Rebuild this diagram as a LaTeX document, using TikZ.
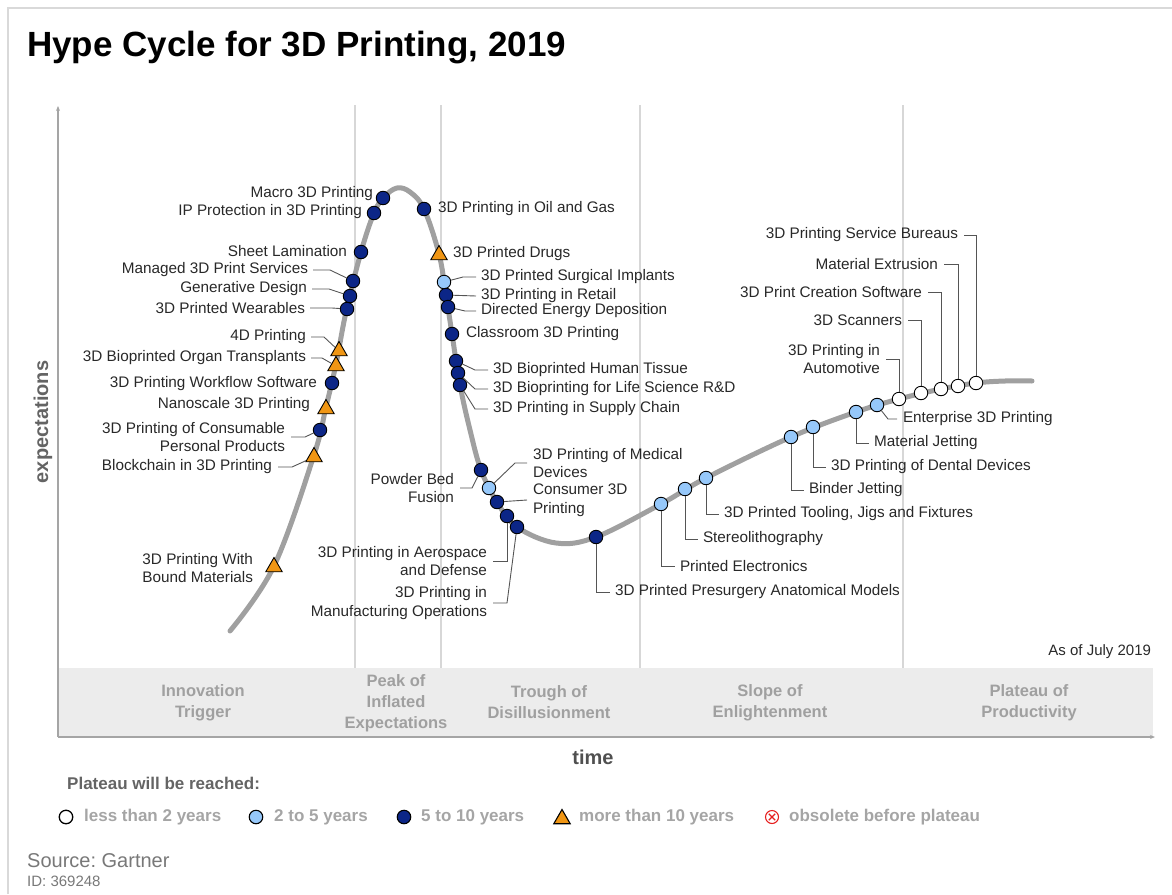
\documentclass[tikz,border=0pt]{standalone}
\usepackage{fontspec}
\setmainfont{Liberation Sans}
\usetikzlibrary{shapes.geometric,arrows.meta}

\definecolor{hcNavy}{RGB}{12,38,135}
\definecolor{hcLight}{RGB}{150,200,250}
\definecolor{hcOrange}{RGB}{240,150,20}
\definecolor{hcCurve}{RGB}{160,160,160}
\definecolor{hcSep}{RGB}{215,215,215}
\definecolor{hcAxis}{RGB}{165,165,165}
\definecolor{hcBand}{RGB}{236,236,236}
\definecolor{hcFrame}{RGB}{217,217,217}
\definecolor{hcText}{RGB}{40,40,40}
\definecolor{hcLeader}{RGB}{85,85,85}
\definecolor{hcPhase}{RGB}{160,160,160}
\definecolor{hcLegend}{RGB}{165,165,165}
\definecolor{hcLegendHead}{RGB}{100,100,100}
\definecolor{hcSource}{RGB}{120,120,120}
\definecolor{hcRed}{RGB}{230,30,30}

\begin{document}
\frenchspacing
\begin{tikzpicture}[x=1pt,y=-1pt,
  curve/.style={line width=5pt,draw=hcCurve,line cap=round},
  sepline/.style={draw=hcSep,line width=1.2pt},
  axisline/.style={draw=hcAxis,line width=1.5pt,-{Stealth[length=5pt,width=4pt]}},
  mk/.style={circle,draw=black,line width=0.9pt,minimum size=13.5pt,inner sep=0pt},
  mkA/.style={mk,fill=white},
  mkB/.style={mk,fill=hcLight},
  mkC/.style={mk,fill=hcNavy},
  mkD/.style={regular polygon,regular polygon sides=3,draw=black,line width=0.9pt,
              fill=hcOrange,minimum size=19pt,inner sep=0pt},
  lbl/.style={font=\fontsize{15.3pt}{18.5pt}\selectfont,text=hcText,inner sep=0pt,outer sep=0pt},
  lblL/.style={lbl,anchor=east,align=right},
  lblR/.style={lbl,anchor=west,align=left},
  leader/.style={draw=hcLeader,line width=0.9pt},
  phase/.style={font=\bfseries\fontsize{16.5pt}{21pt}\selectfont,text=hcPhase,align=center,inner sep=0pt},
  lgdtxt/.style={font=\bfseries\fontsize{17pt}{20pt}\selectfont,text=hcLegend,anchor=west,inner sep=0pt}
]
\useasboundingbox (0,0) rectangle (1172,894);

% page frame
\draw[draw=hcFrame,line width=2pt] (8,894) -- (8,8) -- (1172,8);

% title
\node[anchor=base west,inner sep=0pt,font=\bfseries\fontsize{35pt}{40pt}\selectfont] (title) at (27,56) {Hype Cycle for 3D Printing, 2019};

% phase band and separators
\fill[hcBand] (58,668) rectangle (1153,737);
\foreach \sx in {355,441,640,903} \draw[sepline] (\sx,105) -- (\sx,668);

% axes
\draw[axisline] (58,737) -- (58,106);
\draw[axisline] (58,737) -- (1155,737);
\node[rotate=90,font=\bfseries\fontsize{20pt}{24pt}\selectfont,text=hcLegendHead,inner sep=0pt] (ylab) at (43,422) {expectations};
\node[font=\bfseries\fontsize{20pt}{24pt}\selectfont,text=hcLegendHead!80!black,inner sep=0pt] (xlab) at (593,757) {time};

% phase names
\node[phase] (ph1) at (203,702.5) {Innovation\\Trigger};
\node[phase] (ph2) at (396,703.5) {Peak of\\Inflated\\Expectations};
\node[phase] (ph3) at (549,702.5) {Trough of\\Disillusionment};
\node[phase] (ph4) at (770,702.5) {Slope of\\Enlightenment};
\node[phase] (ph5) at (1029,702.5) {Plateau of\\Productivity};

\node[lbl,anchor=east,font=\fontsize{15pt}{18pt}\selectfont] (asof) at (1151,652) {As of July 2019};

% the hype curve
\draw[curve] plot[smooth,tension=0.6] coordinates {
  (230,631) (274,566) (314,455) (326,407) (336,364)
  (346,312) (361,252) (374,213) (384,197) (397,188) (410,192) (424,209)
  (439,254) (446,295) (452,334) (460,385) (470,430) (481,470) (497,502)
  (517,527) (556,543) (596,537) (661,504) (706,478)
  (791,437) (856,412) (899,399) (941,389) (976,383) (1005,381)
  (1032,381)};

% markers
\node[mkC] (m1) at (383,198) {};
\node[mkC] (m2) at (374,213) {};
\node[mkC] (m3) at (361,252) {};
\node[mkC] (m6) at (347,309) {};
\node[mkC] (m5) at (350,296) {};
\node[mkC] (m4) at (353,281) {};
\node[mkD] (m8) at (336,366) {};
\node[mkD] (m7) at (339,351) {};
\node[mkC] (m9) at (332,383) {};
\node[mkD] (m10) at (326,409) {};
\node[mkC] (m11) at (320,430) {};
\node[mkD] (m12) at (314,457) {};
\node[mkD] (m13) at (274,567) {};
\node[mkC] (m22) at (424,209) {};
\node[mkD] (m23) at (439,255) {};
\node[mkB] (m24) at (444,282) {};
\node[mkC] (m25) at (446,295) {};
\node[mkC] (m26) at (448,307) {};
\node[mkC] (m27) at (452,334) {};
\node[mkC] (m28) at (456,361) {};
\node[mkC] (m29) at (458,373) {};
\node[mkC] (m30) at (460,385) {};
\node[mkC] (m14) at (481,470) {};
\node[mkB] (m31) at (489,488) {};
\node[mkC] (m32) at (497,502) {};
\node[mkC] (m15) at (507,516) {};
\node[mkC] (m16) at (517,527) {};
\node[mkC] (m33) at (596,537) {};
\node[mkB] (m34) at (661,504) {};
\node[mkB] (m35) at (685,489) {};
\node[mkB] (m36) at (706,478) {};
\node[mkB] (m37) at (791,437) {};
\node[mkB] (m38) at (813,427) {};
\node[mkB] (m39) at (856,412) {};
\node[mkB] (m40) at (877,405) {};
\node[mkA] (m17) at (899,399) {};
\node[mkA] (m18) at (921,393) {};
\node[mkA] (m19) at (941,389) {};
\node[mkA] (m20) at (958,386) {};
\node[mkA] (m21) at (976,383) {};

% labels, left of the curve
\node[lblL] (t1) at (373,194) {Macro 3D Printing};
\node[lblL] (t2) at (362,212) {IP Protection in 3D Printing};
\node[lblL] (t3) at (347,251) {Sheet Lamination};
\node[lblL] (t4) at (308,270) {Managed 3D Print Services};
\node[lblL] (t5) at (307,289) {Generative Design};
\node[lblL] (t6) at (305,308) {3D Printed Wearables};
\node[lblL] (t7) at (306,337) {4D Printing};
\node[lblL] (t8) at (306,358) {3D Bioprinted Organ Transplants};
\node[lblL] (t9) at (317,384) {3D Printing Workflow Software};
\node[lblL] (t10) at (310,405) {Nanoscale 3D Printing};
\node[lblL] (t11) at (285,437) {3D Printing of Consumable\\Personal Products};
\node[lblL] (t12) at (272,467) {Blockchain in 3D Printing};
\node[lblL] (t13) at (253,568) {3D Printing With\\Bound Materials};
\node[lblL] (t14) at (454,488) {Powder Bed\\Fusion};
\node[lblL] (t15) at (487,561) {3D Printing in Aerospace\\and Defense};
\node[lblL] (t16) at (487,603) {3D Printing in\\Manufacturing Operations};
\node[lblL] (t17) at (880,359) {3D Printing in\\Automotive};
\node[lblL] (t18) at (902,320) {3D Scanners};
\node[lblL] (t19) at (922,292) {3D Print Creation Software};
\node[lblL] (t20) at (938,264) {Material Extrusion};
\node[lblL] (t21) at (958,235) {3D Printing Service Bureaus};

% labels, right of the curve
\node[lblR] (t22) at (438,209) {3D Printing in Oil and Gas};
\node[lblR] (t23) at (453,254) {3D Printed Drugs};
\node[lblR] (t24) at (481,277) {3D Printed Surgical Implants};
\node[lblR] (t25) at (481,296) {3D Printing in Retail};
\node[lblR] (t26) at (481,311) {Directed Energy Deposition};
\node[lblR] (t27) at (466,334) {Classroom 3D Printing};
\node[lblR] (t28) at (493,370) {3D Bioprinted Human Tissue};
\node[lblR] (t29) at (493,389) {3D Bioprinting for Life Science R\&D};
\node[lblR] (t30) at (493,409) {3D Printing in Supply Chain};
\node[lblR] (t31) at (533,463) {3D Printing of Medical\\Devices};
\node[lblR] (t32) at (533,500) {Consumer 3D\\Printing};
\node[lblR] (t33) at (615,592) {3D Printed Presurgery Anatomical Models};
\node[lblR] (t34) at (680,566) {Printed Electronics};
\node[lblR] (t35) at (703,539) {Stereolithography};
\node[lblR] (t36) at (724,514) {3D Printed Tooling, Jigs and Fixtures};
\node[lblR] (t37) at (809,490) {Binder Jetting};
\node[lblR] (t38) at (831,467) {3D Printing of Dental Devices};
\node[lblR] (t39) at (874,443) {Material Jetting};
\node[lblR] (t40) at (903,419) {Enterprise 3D Printing};

% leader lines
\draw[leader] ([xshift=5pt]t4.east) -- ++(17,0) -- (m4);
\draw[leader] ([xshift=5pt]t5.east) -- ++(17,0) -- (m5);
\draw[leader] ([xshift=5pt]t6.east) -- ++(22,0) -- (m6);
\draw[leader] ([xshift=5pt]t7.east) -- ++(13,0) -- (m7);
\draw[leader] ([xshift=5pt]t8.east) -- ++(11,0) -- (m8);
\draw[leader] ([xshift=6pt]t11.east) -- ++(14,0) -- (m11);
\draw[leader] ([xshift=6pt]t12.east) -- ++(14,0) -- (m12);
\draw[leader] ([xshift=6pt]t14.east) -- ++(12,0) -- (m14);
\draw[leader] ([xshift=6pt]t15.east) -| (m15);
\draw[leader] ([xshift=6pt]t16.east) -- ++(14,0) -- (m16);
\draw[leader] ([xshift=6pt]t17.east) -| (m17);
\draw[leader] ([xshift=6pt]t18.east) -| (m18);
\draw[leader] ([xshift=6pt]t19.east) -| (m19);
\draw[leader] ([xshift=6pt]t20.east) -| (m20);
\draw[leader] ([xshift=6pt]t21.east) -| (m21);
\draw[leader] ([xshift=-5pt]t24.west) -- ++(-13,0) -- (m24);
\draw[leader] ([xshift=-5pt]t25.west) -- (m25);
\draw[leader] ([xshift=-5pt]t26.west) -- ++(-11,0) -- (m26);
\draw[leader] ([xshift=-5pt]t28.west) -- ++(-13,0) -- (m28);
\draw[leader] ([xshift=-5pt]t29.west) -- ++(-13,0) -- (m29);
\draw[leader] ([xshift=-5pt]t30.west) -- ++(-13,0) -- (m30);
\draw[leader] ([xshift=-6pt]t31.west) -- ++(-12,0) -- (m31);
\draw[leader] ([xshift=-6pt]t32.west) -- (m32);
\draw[leader] (m33) |- ([xshift=-5pt]t33.west);
\draw[leader] (m34) |- ([xshift=-5pt]t34.west);
\draw[leader] (m35) |- ([xshift=-5pt]t35.west);
\draw[leader] (m36) |- ([xshift=-5pt]t36.west);
\draw[leader] (m37) |- ([xshift=-5pt]t37.west);
\draw[leader] (m38) |- ([xshift=-5pt]t38.west);
\draw[leader] (m39) |- ([xshift=-5pt]t39.west);
\draw[leader] ([xshift=-6pt]t40.west) -- ++(-9,0) -- (m40);

% legend
\node[lgdtxt,text=hcLegendHead] (lgh) at (67,783) {Plateau will be reached:};
\node[mkA,line width=1.3pt] (k1) at (66,817) {};
\node[lgdtxt] (kt1) at (84,817) {less than 2 years};
\node[mkB,line width=1.1pt] (k2) at (256,817) {};
\node[lgdtxt] (kt2) at (274,817) {2 to 5 years};
\node[mkC,line width=1.1pt] (k3) at (404,817) {};
\node[lgdtxt] (kt3) at (421,817) {5 to 10 years};
\node[mkD,line width=1.1pt] (k4) at (562,819) {};
\node[lgdtxt] (kt4) at (579,817) {more than 10 years};
\node[circle,draw=hcRed,fill=white,line width=1.1pt,minimum size=13pt,inner sep=0pt] (k5) at (772,817) {};
\draw[hcRed,line width=1.1pt]
  ([shift={(-3.2,-3.2)}]k5.center) -- ([shift={(3.2,3.2)}]k5.center)
  ([shift={(-3.2,3.2)}]k5.center) -- ([shift={(3.2,-3.2)}]k5.center);
\node[lgdtxt] (kt5) at (789,817) {obsolete before plateau};

% source
\node[anchor=west,inner sep=0pt,text=hcSource,font=\fontsize{20pt}{24pt}\selectfont] (src) at (27,861) {Source: Gartner};
\node[anchor=west,inner sep=0pt,text=hcSource,font=\fontsize{15pt}{18pt}\selectfont] (srcid) at (27,881) {ID: 369248};
\end{tikzpicture}
\end{document}
